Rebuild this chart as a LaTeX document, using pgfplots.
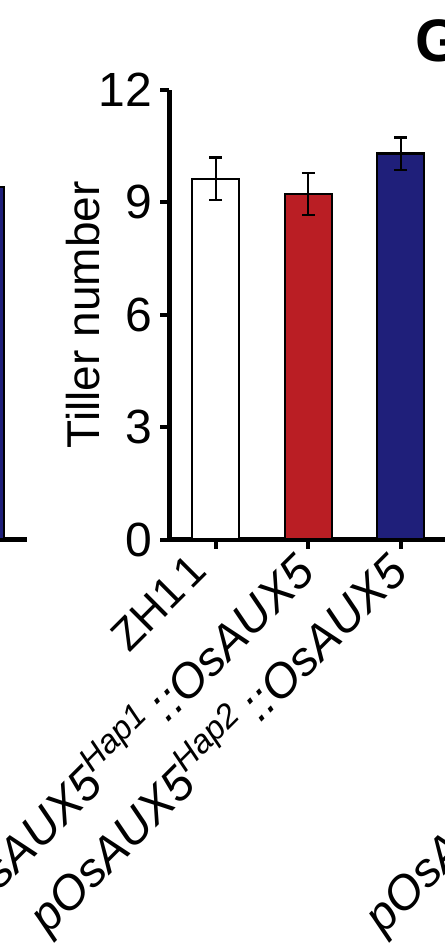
\documentclass[border=0pt]{standalone}
\usepackage{fontspec}
\setmainfont{Liberation Sans}
\setsansfont{Liberation Sans}
\usepackage{pgfplots}
\pgfplotsset{compat=1.18}

\definecolor{barred}{RGB}{186,30,36}
\definecolor{barnavy}{RGB}{31,31,122}

\pgfplotsset{
  panel/.style={
    x=46.25pt, y=18.73pt,
    ymin=0, ymax=12,
    axis line style={line width=2.5pt, black},
    tick style={line width=2pt, black},
    tick align=outside, major tick length=4.5pt,
    ybar, bar width=23.5pt, bar shift=0pt,
  },
  rotlabels/.style={
    xticklabel style={xshift=-7.5pt, yshift=-0.75pt,
      rotate=45, anchor=north east, inner sep=0pt,
      text height=17pt, text depth=0pt,
      font=\fontsize{23.75}{28}\selectfont},
  },
  errbar/.style={
    error bars/y dir=both, error bars/y explicit,
    error bars/error bar style={line width=1.2pt, black},
    error bars/error mark options={rotate=90, mark size=3.2pt, line width=1.2pt, black},
  },
}

\begin{document}
\begin{tikzpicture}

% neighbouring panel on the left, mostly cut off
\begin{axis}[panel,
  anchor=south east, at={(-71.25pt,0pt)},
  xmin=-1.5, xmax=0.5,
  hide y axis, axis x line*=bottom,
  xtick=\empty, ytick=\empty,
]
\addplot[fill=barnavy, draw=black, line width=1.2pt] coordinates {(0,9.41)};
\end{axis}

% tiller number panel
\begin{axis}[panel, rotlabels,
  anchor=south west, at={(0pt,0pt)},
  xmin=-0.5, xmax=2.8,
  axis lines*=left,
  ytick={0,3,6,9,12},
  xtick={0,1,2},
  xticklabels={{\fontsize{22}{26}\selectfont\raisebox{6pt}{ZH1\hspace{0.12em}1}\kern5pt},
    {\itshape pOsAUX5\textsuperscript{Hap1}\,::OsAUX5},
    {\itshape pOsAUX5\textsuperscript{Hap2}\,::OsAUX5}},
  /pgf/number format/assume math mode=true,
  yticklabel style={font=\fontsize{24}{28}\selectfont, inner sep=0pt, xshift=-4pt},
  ylabel={Tiller number},
  ylabel style={font=\fontsize{23}{27}\selectfont, inner sep=0pt,
    at={(axis description cs:-0.2277,0.5)}, anchor=south},
]
\addplot[fill=white, draw=black, line width=1.2pt, errbar]
  coordinates {(0,9.63) +- (0,0.57)};
\addplot[fill=barred, draw=black, line width=1.2pt, errbar]
  coordinates {(1,9.22) +- (0,0.56)};
\addplot[fill=barnavy, draw=black, line width=1.2pt, errbar]
  coordinates {(2,10.30) +- (0,0.43)};
\end{axis}

% next panel on the right, only the start of one label shows
\begin{axis}[panel, rotlabels,
  anchor=south west, at={(260.1pt,0pt)},
  xmin=-0.5, xmax=3,
  hide y axis, axis x line*=bottom,
  ytick=\empty, xtick={0},
  xticklabels={{\itshape pOsAUX5\textsuperscript{Hap1}\,::OsAUX5}},
]
\end{axis}

\node[anchor=base west, inner sep=0pt, font=\bfseries\fontsize{30}{34}\selectfont]
  at (122.75pt,238.75pt) {G};

\pgfresetboundingbox
\path[use as bounding box] (-84.75pt,-206.25pt) rectangle (137.25pt,269.75pt);
\end{tikzpicture}
\end{document}
